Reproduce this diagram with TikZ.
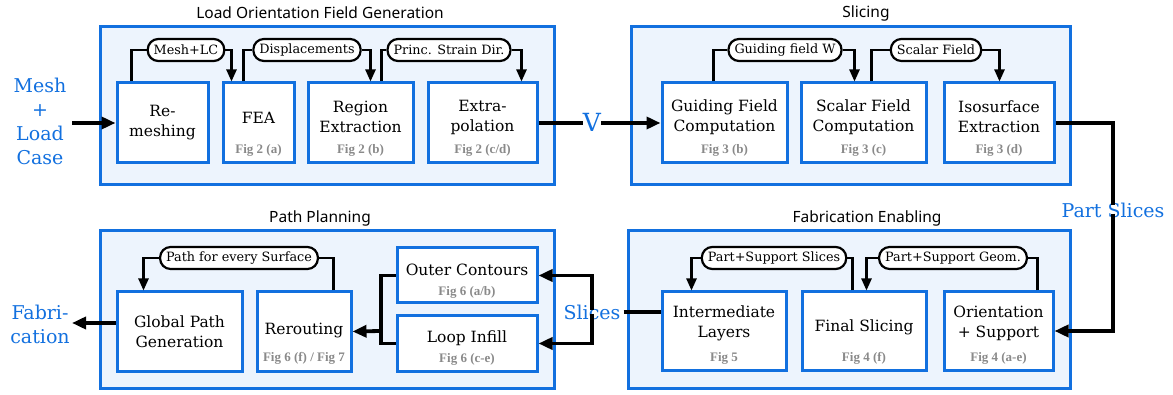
\documentclass[tikz,border=0pt]{standalone}
\usepackage{fontspec}
\setmainfont{DejaVu Serif}
\newfontfamily\figfont{Liberation Serif}
\newfontfamily\titlefont{Noto Sans}
\usetikzlibrary{arrows.meta}
\definecolor{bblue}{HTML}{1270DF}
\definecolor{gfill}{HTML}{EDF4FD}
\definecolor{fgray}{HTML}{8A8A8A}
\newcommand\mkbox[5]{\node[box, minimum width={(#4)-(#2)}, minimum height={(#5)-(#3)}] (#1) at ({((#2)+(#4))/2},{((#3)+(#5))/2}) {};}
\begin{document}
\begin{tikzpicture}[x=1pt,y=-1pt,
  group/.style={draw=bblue, fill=gfill, line width=2.8pt, inner sep=0},
  box/.style={draw=bblue, fill=white, line width=3pt, inner sep=0},
  maintxt/.style={font=\fontsize{15.5}{20}\selectfont, align=center, inner sep=0},
  figlab/.style={font=\figfont\bfseries\fontsize{13}{15}\selectfont, text=fgray, inner sep=0},
  pill/.style={draw, line width=2.2pt, rounded corners=10.5pt, fill=white, minimum height=22pt, font=\fontsize{12.8}{15}\selectfont, inner xsep=6pt, inner ysep=0},
  title/.style={font=\titlefont\fontsize{15.5}{18}\selectfont, inner sep=0},
  bluelab/.style={text=bblue, font=\fontsize{19}{24}\selectfont, align=center, inner sep=0},
  conn/.style={line width=2.4pt},
  arr/.style={conn, -{Triangle[length=12pt,width=10pt]}},
  thk/.style={line width=3.8pt},
  bigarr/.style={thk, -{Triangle[length=14pt,width=12pt]}}]
\useasboundingbox (0,0) rectangle (1173,395);
% groups
\mkbox{g1}{102}{28}{553}{183}
\mkbox{g2}{633}{28}{1069}{183}
\mkbox{g3}{102}{232}{553}{387}
\mkbox{g4}{630}{232}{1069}{387}
\foreach \g in {g1,g2,g3,g4}{\draw[group] (\g.north west) rectangle (\g.south east);}
% titles
\node[title] (t1) at (320,13) {Load Orientation Field Generation};
\node[title] (t2) at (866,13) {Slicing};
\node[title] (t3) at (320,218) {Path Planning};
\node[title] (t4) at (867,218) {Fabrication Enabling};
% top boxes
\mkbox{remesh}{117}{83}{208}{163}
\mkbox{fea}{223}{83}{294}{163}
\mkbox{region}{308}{83}{413}{163}
\mkbox{extra}{428}{83}{537}{163}
\mkbox{guiding}{662}{83}{787}{163}
\mkbox{scalar}{801}{83}{926}{163}
\mkbox{iso}{944}{83}{1054}{163}
% bottom boxes
\mkbox{global}{117}{292}{242}{371}
\mkbox{rerout}{257}{292}{351}{371}
\mkbox{outer}{397}{248}{537}{303}
\mkbox{loop}{397}{316}{537}{371}
\mkbox{inter}{662}{292}{786}{370}
\mkbox{final}{802}{292}{926}{370}
\mkbox{orient}{944}{292}{1053}{370}
% box texts
\node[maintxt] (remeshT) at (162.5,123) {Re-\\meshing};
\node[maintxt] (feaT) at (258.5,118) {FEA};
\node[figlab] (feaF) at (258.5,150) {Fig 2 (a)};
\node[maintxt] (regionT) at (360.5,117) {Region\\Extraction};
\node[figlab] (regionF) at (360.5,150) {Fig 2 (b)};
\node[maintxt] (extraT) at (482.5,117) {Extra-\\polation};
\node[figlab] (extraF) at (482.5,150) {Fig 2 (c/d)};
\node[maintxt] (guidingT) at (724.5,117) {Guiding Field\\Computation};
\node[figlab] (guidingF) at (724.5,150) {Fig 3 (b)};
\node[maintxt] (scalarT) at (863.5,117) {Scalar Field\\Computation};
\node[figlab] (scalarF) at (863.5,150) {Fig 3 (c)};
\node[maintxt] (isoT) at (999,117) {Isosurface\\Extraction};
\node[figlab] (isoF) at (999,150) {Fig 3 (d)};
\node[maintxt] (globalT) at (179.5,332) {Global Path\\Generation};
\node[maintxt] (reroutT) at (304,331) {Rerouting};
\node[figlab] (reroutF) at (304,358) {Fig 6 (f) / Fig 7};
\node[maintxt] (outerT) at (467,270) {Outer Contours};
\node[figlab] (outerF) at (467,292) {Fig 6 (a/b)};
\node[maintxt] (loopT) at (467,338) {Loop Infill};
\node[figlab] (loopF) at (467,359) {Fig 6 (c-e)};
\node[maintxt] (interT) at (724,323) {Intermediate\\Layers};
\node[figlab] (interF) at (724,358) {Fig 5};
\node[maintxt] (finalT) at (864,327) {Final Slicing};
\node[figlab] (finalF) at (864,358) {Fig 4 (f)};
\node[maintxt] (orientT) at (998.5,323) {Orientation\\+ Support};
\node[figlab] (orientF) at (998.5,358) {Fig 4 (a-e)};
% pills
\node[pill] (p1) at (186,50) {Mesh+LC};
\node[pill] (p2) at (307,50) {Displacements};
\node[pill] (p3) at (449,50) {Princ. Strain Dir.};
\node[pill] (p4) at (785,50) {Guiding field W};
\node[pill] (p5) at (936,50) {Scalar Field};
\node[pill] (p6) at (239,258) {Path for every Surface};
\node[pill] (p7) at (774,258) {Part+Support Slices};
\node[pill] (p8) at (953,258) {Part+Support Geom.};
% pill connectors
\draw[conn] ([xshift=16pt]remesh.north west) |- (p1.west);
\draw[arr] (p1.east) -| ([xshift=10pt]fea.north west);
\draw[conn] ([xshift=22pt]fea.north west) |- (p2.west);
\draw[arr] (p2.east) -| ([xshift=64pt]region.north west);
\draw[conn] ([xshift=-33pt]region.north east) |- (p3.west);
\draw[arr] (p3.east) -| ([xshift=-17pt]extra.north east);
\draw[conn] ([xshift=53pt]guiding.north west) |- (p4.west);
\draw[arr] (p4.east) -| ([xshift=55pt]scalar.north west);
\draw[conn] ([xshift=72pt]scalar.north west) |- (p5.west);
\draw[arr] (p5.east) -| ([xshift=57pt]iso.north west);
\draw[conn] ([xshift=-19pt]rerout.north east) |- (p6.east);
\draw[arr] (p6.west) -| ([xshift=28pt]global.north west);
\draw[conn] ([xshift=52pt]final.north west) |- (p7.east);
\draw[arr] (p7.west) -| ([xshift=31pt]inter.north west);
\draw[conn] ([xshift=-17pt]orient.north east) |- (p8.east);
\draw[arr] (p8.west) -| ([xshift=66pt]final.north west);
% blue labels
\node[bluelab] (mesh) at (40,121) {Mesh\\+\\Load\\Case};
\node[bluelab, font=\fontsize{25}{28}\selectfont] (V) at (592,122) {V};
\node[bluelab] (ps) at (1113,210) {Part Slices};
\node[bluelab] (slices) at (592,312) {Slices};
\node[bluelab] (fab) at (40,324) {Fabri-\\cation};
% main connectors
\coordinate (meshout) at (72,123);
\draw[bigarr] (meshout) -- (remesh.west);
\draw[thk] (extra.east) -- (V.west |- extra.east);
\draw[bigarr] (V.east |- guiding.west) -- (guiding.west);
\draw[thk] (iso.east) -| ([yshift=-3pt]ps.north);
\draw[bigarr] ([yshift=4pt]ps.south) |- (orient.east);
\draw[thk] ([xshift=3pt]slices.east) -- (slices.east -| inter.west);
\draw[bigarr] ([yshift=-6pt]slices.north) |- (outer.east);
\draw[bigarr] ([yshift=6pt]slices.south) |- (loop.east);
\coordinate (jn) at (381,331);
\draw[thk] (outer.west) -| (jn) |- (loop.west);
\draw[bigarr] (jn) -- (rerout.east);
\coordinate (fabin) at (72,323);
\draw[bigarr] (global.west |- fabin) -- (fabin);
\end{tikzpicture}
\end{document}
